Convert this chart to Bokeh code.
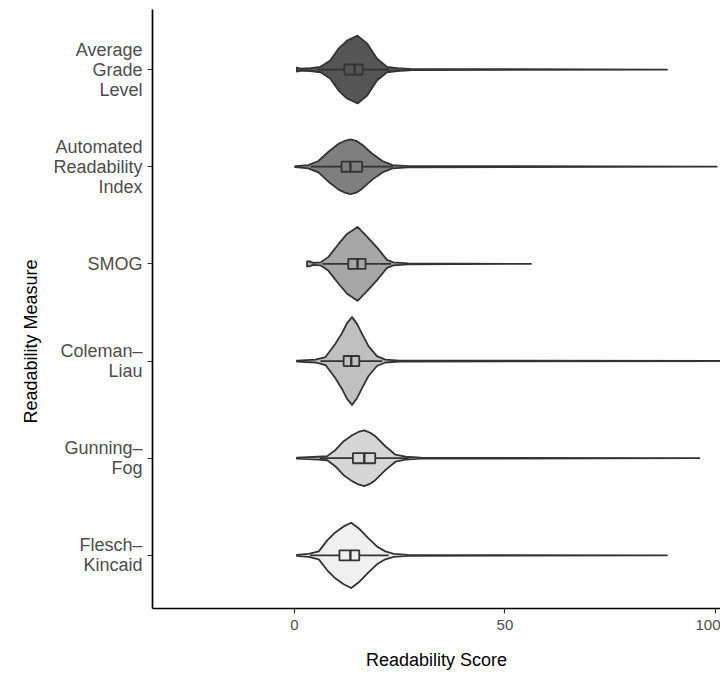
from bokeh.plotting import figure
from bokeh.models import FixedTicker, Range1d, Title
from bokeh.embed import file_html
from bokeh.resources import INLINE

# ---- data ----
measures = ["Flesch–\nKincaid", "Gunning–\nFog", "Coleman–\nLiau", "SMOG",
            "Automated\nReadability\nIndex", "Average\nGrade\nLevel"]
fills = ["#f0f0f0", "#d6d6d6", "#c0c0c0", "#a6a6a6", "#7f7f7f", "#555555"]

# violin profiles: score grid and half-width (density, in category units)
fk_x = [0.6, 3.4, 5.8, 7.8, 9.7, 11.7, 13.5, 15.3, 17.6, 19.6, 21.6, 23.6, 27.0, 88.5]
fk_w = [0.005, 0.015, 0.041, 0.154, 0.236, 0.298, 0.336, 0.277, 0.175, 0.092, 0.041, 0.015, 0.005, 0.0]

gf_x = [0.6, 5.7, 7.8, 9.7, 11.7, 13.7, 15.2, 16.6, 18.0, 19.2, 21.6, 24.0, 26.4, 30.0, 96.2]
gf_w = [0.005, 0.015, 0.021, 0.082, 0.175, 0.236, 0.270, 0.287, 0.262, 0.226, 0.123, 0.036, 0.015, 0.005, 0.0]

cl_x = [0.6, 5.0, 7.4, 9.7, 11.3, 12.5, 13.7, 14.9, 16.1, 17.6, 19.6, 21.6, 25.0, 105.0]
cl_w = [0.005, 0.015, 0.041, 0.175, 0.287, 0.390, 0.452, 0.380, 0.277, 0.154, 0.051, 0.015, 0.005, 0.0]

sm_x = [3.0, 3.6, 4.5, 6.2, 8.1, 10.5, 12.5, 15.0, 17.3, 19.7, 22.0, 23.5, 27.0, 56.2]
sm_w = [0.026, 0.026, 0.010, 0.015, 0.072, 0.205, 0.308, 0.380, 0.277, 0.164, 0.041, 0.015, 0.005, 0.0]

ari_x = [0.2, 3.3, 5.7, 8.1, 10.5, 12.0, 13.3, 14.7, 16.1, 18.5, 20.9, 23.3, 27.0, 100.3]
ari_w = [0.005, 0.017, 0.059, 0.154, 0.236, 0.267, 0.282, 0.267, 0.226, 0.133, 0.059, 0.017, 0.007, 0.0]

agl_x = [0.6, 1.5, 3.8, 6.2, 8.5, 10.5, 12.5, 15.0, 17.3, 19.6, 22.0, 24.4, 28.0, 88.5]
agl_w = [0.021, 0.010, 0.015, 0.028, 0.092, 0.216, 0.298, 0.349, 0.267, 0.113, 0.028, 0.015, 0.005, 0.0]

profiles_x = [fk_x, gf_x, cl_x, sm_x, ari_x, agl_x]
profiles_w = [fk_w, gf_w, cl_w, sm_w, ari_w, agl_w]

# box plot statistics
q1 = [10.7, 13.9, 11.7, 12.8, 11.2, 11.9]
med = [13.3, 16.6, 13.5, 15.0, 13.3, 14.3]
q3 = [15.4, 19.2, 15.4, 16.9, 16.1, 16.2]
whisk_lo = [3.7, 6.0, 6.2, 6.7, 3.9, 5.5]
whisk_hi = [22.4, 27.1, 20.9, 23.0, 23.4, 22.6]

x_ticks = [0, 50, 100]

# ---- figure ----
FONT = "Liberation Sans"
p = figure(width=720, height=672, x_range=Range1d(-33.7, 101.2), y_range=Range1d(0.453, 6.618),
           output_backend="svg", toolbar_location=None,
           min_border_left=152, min_border_right=0, min_border_top=9, min_border_bottom=62)
p.grid.visible = False
p.outline_line_color = None
p.background_fill_color = "white"

edge = "#333333"
positions = list(range(1, len(measures) + 1))
vx, vy = [], []
for pos, xs, ws in zip(positions, profiles_x, profiles_w):
    vx.append(list(xs) + list(xs[::-1]))
    vy.append([pos + w for w in ws] + [pos - w for w in ws[::-1]])
p.patches(vx, vy, fill_color=fills, line_color=edge, line_width=1.8, line_join="round")

# whiskers
p.segment(x0=whisk_lo, y0=positions, x1=whisk_hi, y1=positions, line_color=edge, line_width=1.8)
# boxes
p.quad(left=q1, right=q3, bottom=[y - 0.052 for y in positions], top=[y + 0.052 for y in positions],
       fill_color=fills, line_color=edge, line_width=1.8)
p.segment(x0=med, y0=[y - 0.052 for y in positions], x1=med, y1=[y + 0.052 for y in positions],
          line_color=edge, line_width=2.4)

# axes
for ax in (p.xaxis[0], p.yaxis[0]):
    ax.axis_line_color = "black"
    ax.axis_line_width = 1.7
    ax.major_tick_line_color = "#333333"
    ax.major_tick_line_width = 1.2
    ax.major_tick_in = 0
    ax.major_tick_out = 5
    ax.minor_tick_line_color = None
    ax.major_label_text_color = "#4d4d4d"
    ax.major_label_text_font = FONT
    ax.axis_label_text_font = FONT
    ax.axis_label_text_font_style = "normal"
    ax.axis_label_text_color = "black"
    ax.axis_label_text_font_size = "18px"

p.xaxis.ticker = FixedTicker(ticks=x_ticks)
p.xaxis.major_label_text_font_size = "15px"
p.xaxis.major_label_standoff = 6
p.xaxis.axis_label = "Readability Score"
p.xaxis.axis_label_standoff = 17

p.yaxis.ticker = FixedTicker(ticks=positions)
p.yaxis.major_label_overrides = {pos: lab for pos, lab in zip(positions, measures)}
p.yaxis.major_label_text_font_size = "18px"
p.yaxis.major_label_text_line_height = 1.0
p.yaxis.major_label_standoff = 5

ytitle = Title(text="Readability Measure", align="left", offset=185, standoff=20,
               text_font=FONT, text_font_size="18px", text_font_style="normal",
               text_color="black")
p.add_layout(ytitle, "left")

open("out.html", "w").write(file_html(p, INLINE))
